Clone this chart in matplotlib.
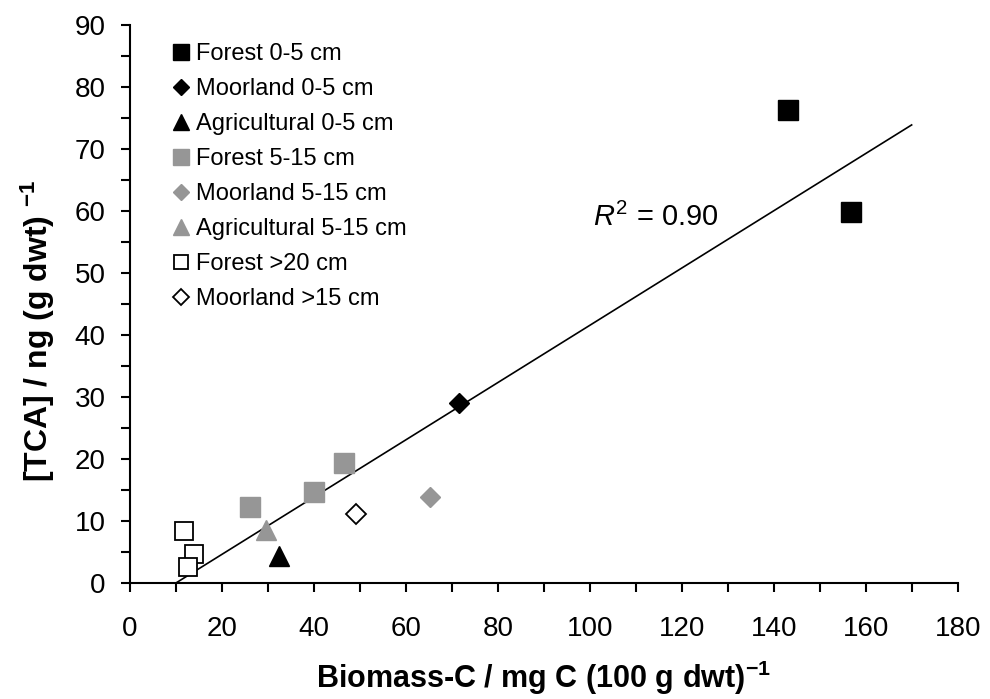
import matplotlib
matplotlib.use("Agg")
import matplotlib.pyplot as plt
import numpy as np

plt.rcParams['font.family'] = ['Liberation Sans', 'DejaVu Sans']
plt.rcParams['mathtext.fontset'] = 'custom'
plt.rcParams['mathtext.rm'] = 'Liberation Sans'
plt.rcParams['mathtext.it'] = 'Liberation Sans:italic'
plt.rcParams['mathtext.bf'] = 'Liberation Sans:bold'

# data
forest_0_5_x = [143.0, 156.9]
forest_0_5_y = [76.3, 59.8]
moor_0_5_x = [71.5]
moor_0_5_y = [29.0]
agri_0_5_x = [32.3]
agri_0_5_y = [4.4]
forest_5_15_x = [26.1, 40.1, 46.6]
forest_5_15_y = [12.3, 14.7, 19.4]
moor_5_15_x = [65.3]
moor_5_15_y = [13.8]
agri_5_15_x = [29.5]
agri_5_15_y = [8.5]
forest_20_x = [11.8, 13.9, 12.7]
forest_20_y = [8.4, 4.6, 2.5]
moor_15_x = [49.2]
moor_15_y = [11.2]

# linear trend
trend_x = [10.0, 170.0]
slope, intercept = 0.4619, -4.62

grey = '#969696'

fig = plt.figure(figsize=(9.9, 6.99), dpi=100)
ax = fig.add_axes([0.1313, 0.166, 0.836, 0.798])

tx = np.array(trend_x)
ax.plot(tx, slope * tx + intercept, color='black', lw=1.2, zorder=1)

ax.plot(forest_0_5_x, forest_0_5_y, 's', color='black', ms=14.4, label='Forest 0-5 cm')
ax.plot(moor_0_5_x, moor_0_5_y, 'D', color='black', ms=10.2, label='Moorland 0-5 cm')
ax.plot(agri_0_5_x, agri_0_5_y, '^', color='black', ms=15, label='Agricultural 0-5 cm')
ax.plot(forest_5_15_x, forest_5_15_y, 's', color=grey, ms=14.4, label='Forest 5-15 cm')
ax.plot(moor_5_15_x, moor_5_15_y, 'D', color=grey, ms=10.2, label='Moorland 5-15 cm')
ax.plot(agri_5_15_x, agri_5_15_y, '^', color=grey, ms=15, label='Agricultural 5-15 cm')
ax.plot(forest_20_x, forest_20_y, 's', mfc='white', mec='black', mew=1.3, ms=12.5,
        label='Forest >20 cm')
ax.plot(moor_15_x, moor_15_y, 'D', mfc='white', mec='black', mew=1.3, ms=10.2,
        label='Moorland >15 cm')

ax.text(100.8, 59.0, r'$\mathit{R}^{2}$ = 0.90', fontsize=21, va='center', ha='left')

ax.set_xlim(0, 180)
ax.set_ylim(0, 90)
ax.set_xticks(np.arange(0, 181, 20))
ax.set_xticks(np.arange(0, 181, 10), minor=True)
ax.set_yticks(np.arange(0, 91, 10))
ax.set_yticks(np.arange(0, 91, 5), minor=True)
for s in ['top', 'right']:
    ax.spines[s].set_visible(False)
for s in ['left', 'bottom']:
    ax.spines[s].set_linewidth(1.5)
ax.tick_params(which='both', direction='out', length=6.5, width=1.5, labelsize=20)
ax.tick_params(axis='x', which='major', pad=17)
ax.tick_params(axis='y', which='major', pad=11)

ax.set_xlabel(r'Biomass-C / mg C (100 g dwt)$^{\mathbf{-1}}$', fontsize=22,
              fontweight='bold', labelpad=12)
ax.set_ylabel(r'[TCA] / ng (g dwt) $^{\mathbf{-1}}$', fontsize=23,
              fontweight='bold')
ax.yaxis.set_label_coords(-0.088, 0.453)

ax.legend(loc='upper left', bbox_to_anchor=(0.04, 0.985), frameon=False,
          fontsize=17, numpoints=1, markerscale=0.8, handlelength=0.75,
          handletextpad=0.25, labelspacing=0.55, borderaxespad=0)

fig.savefig('out.png', dpi=100)
